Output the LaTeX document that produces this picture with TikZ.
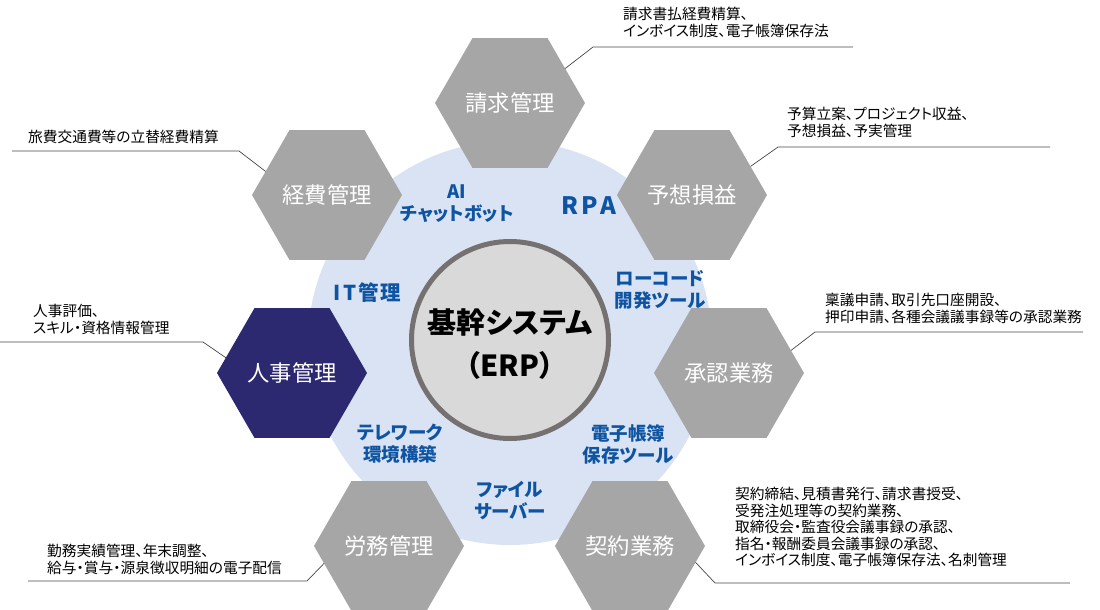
\documentclass[tikz,border=0pt]{standalone}
\usepackage{fontspec}
\setmainfont{Noto Sans CJK JP}[RawFeature=+palt]
\usetikzlibrary{shapes.geometric}
\definecolor{hexgray}{RGB}{166,166,166}
\definecolor{hexnavy}{RGB}{45,41,112}
\definecolor{ringblue}{RGB}{218,227,243}
\definecolor{labelblue}{RGB}{14,84,162}
\definecolor{coregray}{RGB}{217,217,217}
\definecolor{coreedge}{RGB}{118,113,113}
\definecolor{linegray}{RGB}{70,70,70}
\tikzset{
hexbox/.style={
	regular polygon, regular polygon sides=6, minimum size=150pt,
	inner sep=0pt, outer sep=0pt, fill=hexgray, text=white,
	font=\fontsize{22.3}{25}\selectfont},
notetext/.style={anchor=north west, inner sep=0pt, align=left,
	font=\fontsize{14.7}{16.5}\selectfont},
bluetag/.style={align=center, inner sep=0pt, text=labelblue,
	font=\fontsize{18.5}{22}\selectfont\bfseries},
leadline/.style={draw=linegray, line width=0.7pt}
}

\begin{document}
\begin{tikzpicture}[x=1pt, y=-1pt]
	\useasboundingbox (0,0) rectangle (1100,610);
	\fill[ringblue] (510,343) circle[radius=202pt];

	% modules round the core
	\node[hexbox] (seikyu) at (510,103) {請求管理};
	\node[hexbox] (yoso) at (692,195) {予想損益};
	\node[hexbox] (shonin) at (729,373) {承認業務};
	\node[hexbox] (keiyaku) at (630,546) {契約業務};
	\node[hexbox] (romu) at (389,546) {労務管理};
	\node[hexbox, fill=hexnavy] (jinji) at (292,373) {人事管理};
	\node[hexbox] (keihi) at (327,195) {経費管理};

	\node[circle, minimum size=197pt, inner sep=0pt, fill=coregray,
		draw=coreedge, line width=5pt] (erp) at (510,340) {};
	\node[align=center, font=\fontsize{29}{43}\selectfont\bfseries]
		(erptext) at (510,344) {基幹システム\\（ERP）};

	% tools on the ring
	\node[bluetag] (ai) at (457,204) {AI\\チャットボット};
	\node[bluetag, font=\fontsize{24}{26}\selectfont\bfseries] (rpa) at (589,206) {R\hspace{2.5pt}P\hspace{2.5pt}A};
	\node[bluetag] (lowcode) at (660,290) {ローコード\\開発ツール};
	\node[bluetag, font=\fontsize{20.5}{22}\selectfont\bfseries] (itkanri) at (367,293) {I\hspace{3pt}T\hspace{2pt}管\hspace{1pt}理};
	\node[bluetag] (telework) at (400,444) {テレワーク\\環境構築};
	\node[bluetag] (denshi) at (628,444) {電子帳簿\\保存ツール};
	\node[bluetag] (fileserver) at (510,501) {ファイル\\サーバー};

	% notes
	\node[notetext] (seikyu-note) at (623,7) {請求書払経費精算、\\インボイス制度、電子帳簿保存法};
	\coordinate (seikyu-k) at (593,47);
	\coordinate (seikyu-e) at (853,47);
	\draw[leadline] (seikyu.32) -- (seikyu-k) -- (seikyu-e);

	\node[notetext] (keihi-note) at (28,130) {旅費交通費等の立替経費精算};
	\coordinate (keihi-k) at (239,151);
	\coordinate (keihi-e) at (12,151);
	\draw[leadline] (keihi.159) -- (keihi-k) -- (keihi-e);

	\node[notetext] (yoso-note) at (787,107) {予算立案、プロジェクト収益、\\予想損益、予実管理};
	\coordinate (yoso-k) at (778,147);
	\coordinate (yoso-e) at (1050,147);
	\draw[leadline] (yoso.26) -- (yoso-k) -- (yoso-e);

	\node[notetext] (jinji-note) at (33,304) {人事評価、\\スキル・資格情報管理};
	\coordinate (jinji-k) at (203,342);
	\coordinate (jinji-e) at (0,342);
	\draw[leadline] (jinji.167) -- (jinji-k) -- (jinji-e);

	\node[notetext] (shonin-note) at (825,293) {稟議申請、取引先口座開設、\\押印申請、各種会議議事録等の承認業務};
	\coordinate (shonin-k) at (815,332);
	\coordinate (shonin-e) at (1083,332);
	\draw[leadline] (shonin.20) -- (shonin-k) -- (shonin-e);

	\node[notetext] (romu-note) at (47,544) {勤務実績管理、年末調整、\\給与・賞与・源泉徴収明細の電子配信};
	\coordinate (romu-k) at (307,581);
	\coordinate (romu-e) at (28,581);
	\draw[leadline] (romu.195) -- (romu-k) -- (romu-e);

	\node[notetext] (keiyaku-note) at (735,487) {契約締結、見積書発行、請求書授受、\\受発注処理等の契約業務、\\取締役会・監査役会議事録の承認、\\指名・報酬委員会議事録の承認、\\インボイス制度、電子帳簿保存法、名刺管理};
	\coordinate (keiyaku-k) at (715,583);
	\coordinate (keiyaku-e) at (1070,583);
	\draw[leadline] (keiyaku.346) -- (keiyaku-k) -- (keiyaku-e);
\end{tikzpicture}
\end{document}
